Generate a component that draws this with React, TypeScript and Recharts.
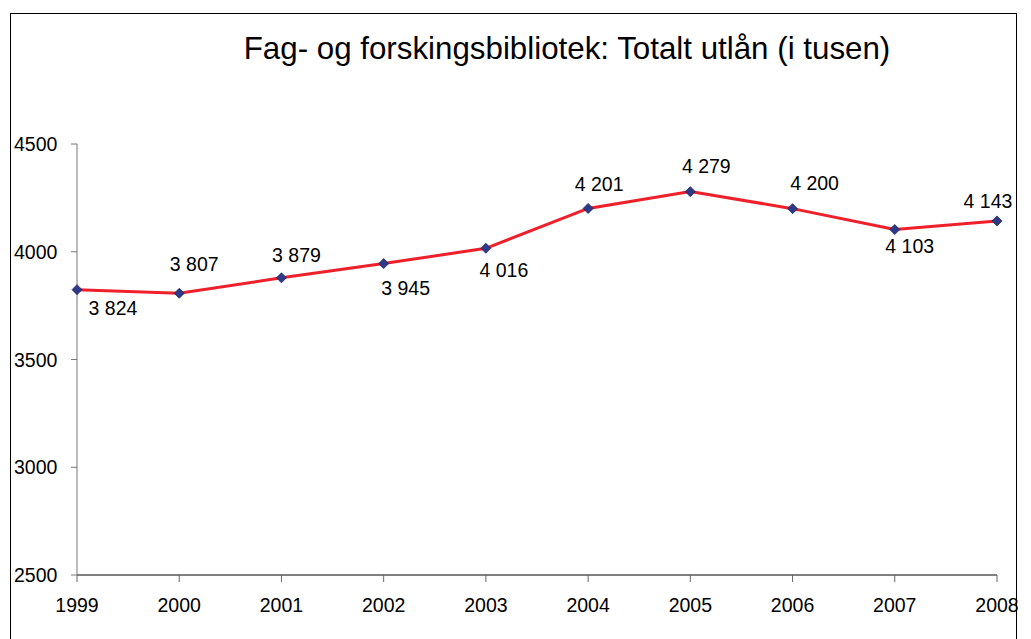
import { CartesianGrid, Line, LineChart, XAxis, YAxis } from "recharts";

const years = ["1999", "2000", "2001", "2002", "2003", "2004", "2005", "2006", "2007", "2008"];
const loans = [3824, 3807, 3879, 3945, 4016, 4201, 4279, 4200, 4103, 4143];
const yTicks = [2500, 3000, 3500, 4000, 4500];

const data = years.map((year, i) => ({ year, loans: loans[i] }));

const FONT = "'Liberation Sans', Arial, sans-serif";
const FS = 19.5;

// label placement relative to each point, as in the original (dx to text centre, dy to baseline)
const labelDx = [36, 15, 15, 22, 18, 11, 16, 22, 15, -9];
const labelDy = [25, -22, -16, 31, 29, -17, -19, -19, 23, -13];

function formatThousands(v: number) {
  return String(v).replace(/\B(?=(\d{3})+(?!\d))/g, " ");
}

function Diamond(props: any) {
  const { cx, cy } = props;
  if (cx == null || cy == null) return null;
  const r = 5;
  return (
    <path
      d={`M${cx},${cy - r} L${cx + r},${cy} L${cx},${cy + r} L${cx - r},${cy} Z`}
      fill="#2e3a87"
      stroke="#1c2660"
      strokeWidth={0.8}
    />
  );
}

function PointLabel(props: any) {
  const { x, y, value, index } = props;
  return (
    <text
      x={x + labelDx[index]}
      y={y + labelDy[index]}
      textAnchor="middle"
      fontFamily={FONT}
      fontSize={FS}
      fill="#000"
    >
      {formatThousands(value)}
    </text>
  );
}

function YTick(props: any) {
  const { y, payload } = props;
  return (
    <text x={14} y={y + 7} textAnchor="start" fontFamily={FONT} fontSize={FS} fill="#000">
      {payload.value}
    </text>
  );
}

export default function App() {
  return (
    <div
      style={{
        position: "absolute",
        left: 0,
        top: 0,
        width: 1031,
        height: 639,
        overflow: "hidden",
        background: "#fff",
      }}
    >
      <div
        style={{
          position: "absolute",
          left: 10,
          top: 13,
          width: 1005,
          height: 700,
          border: "1.5px solid #000",
        }}
      />
      <div
        style={{
          position: "absolute",
          left: 0,
          top: 31,
          width: 1134,
          textAlign: "center",
          fontFamily: FONT,
          fontSize: 31.3,
          color: "#000",
        }}
      >
        Fag- og forskingsbibliotek: Totalt utlån (i tusen)
      </div>
      <div style={{ position: "absolute", left: 0, top: 0 }}>
        <LineChart
          width={1031}
          height={639}
          data={data}
          margin={{ top: 144, right: 34, bottom: 0, left: 0 }}
        >
          <CartesianGrid stroke="none" />
          <XAxis
            dataKey="year"
            height={64}
            stroke="#000"
            tickLine={{ stroke: "#666" }}
            tickSize={7}
            tick={{ fontFamily: FONT, fontSize: FS, fill: "#000", dy: 14 }}
            interval={0}
          />
          <YAxis
            width={77}
            domain={[2500, 4500]}
            ticks={yTicks}
            stroke="#777"
            tickSize={6}
            tick={<YTick />}
            allowDataOverflow
          />
          <Line
            dataKey="loans"
            stroke="#f0202a"
            strokeWidth={3}
            dot={<Diamond />}
            activeDot={false}
            label={<PointLabel />}
            isAnimationActive={false}
          />
        </LineChart>
      </div>
    </div>
  );
}
